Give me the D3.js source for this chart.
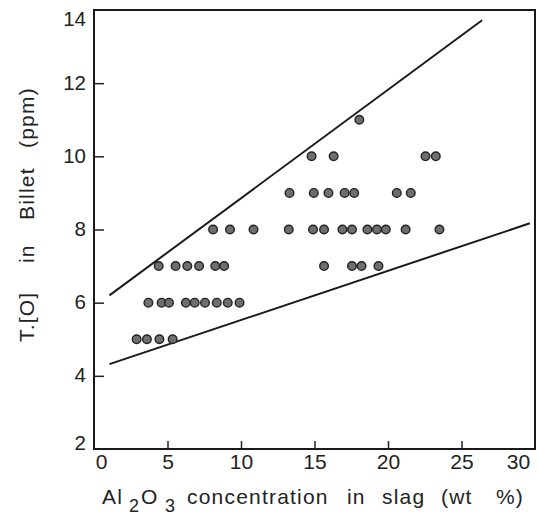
<!DOCTYPE html>
<html>
<head>
<meta charset="utf-8">
<script src="https://cdn.jsdelivr.net/npm/d3@7"></script>
<style>
  body { margin: 0; background: #fff; }
  text { font-family: "Liberation Sans", Arial, sans-serif; fill: #222; }
</style>
</head>
<body>
<svg id="chart" width="539" height="520"></svg>
<script>
// Al2O3 in slag (wt%) vs T.[O] in billet (ppm)
var xVals = [18.05,
  14.8, 16.3, 22.55, 23.25,
  13.3, 14.95, 15.95, 17.05, 17.7, 20.6, 21.55,
  8.1, 9.25, 10.85, 13.25, 14.9, 15.65, 16.9, 17.55, 18.6, 19.25, 19.85, 21.2, 23.5,
  4.4, 5.55, 6.35, 7.15, 8.25, 8.85, 15.65, 17.55, 18.2, 19.35,
  3.7, 4.6, 5.1, 6.25, 6.85, 7.55, 8.35, 9.1, 9.9,
  2.9, 3.6, 4.45, 5.35];
var yVals = [11,
  10, 10, 10, 10,
  9, 9, 9, 9, 9, 9, 9,
  8, 8, 8, 8, 8, 8, 8, 8, 8, 8, 8, 8, 8,
  7, 7, 7, 7, 7, 7, 7, 7, 7, 7,
  6, 6, 6, 6, 6, 6, 6, 6, 6,
  5, 5, 5, 5];
// bounding lines, [x, y] end points
var upperLine = [[1.05, 6.2], [26.4, 13.72]];
var lowerLine = [[1.05, 4.32], [29.65, 8.17]];
var xTicks = [0, 5, 10, 15, 20, 25, 30];
var yTicks = [2, 4, 6, 8, 10, 12, 14];

var svg = d3.select("#chart");
var mLeft = 94, mRight = 535, mTop = 10, mBottom = 449;

var x = d3.scaleLinear().domain([0, 30]).range([mLeft, mRight]);
var y = d3.scaleLinear().domain([2, 14]).range([mBottom, mTop]);

// x axis, ticks pointing inward
var xAxis = svg.append("g")
    .attr("transform", "translate(0," + mBottom + ")")
    .call(d3.axisBottom(x).tickValues(xTicks).tickSize(-8).tickPadding(6).tickSizeOuter(0));
xAxis.select(".domain").remove();
xAxis.selectAll("line").attr("stroke", "#222").attr("stroke-width", 1.5);
xAxis.selectAll("text")
    .attr("font-size", 21).attr("fill", "#222")
    .attr("dy", "0.71em").attr("y", 5)
    .attr("dx", function(d){ return d === 0 ? 7 : d === 30 ? -17 : 0; });
xAxis.selectAll(".tick").filter(function(d){ return d === 0 || d === 30; }).select("line").remove();

var yAxis = svg.append("g")
    .attr("transform", "translate(" + mLeft + ",0)")
    .call(d3.axisLeft(y).tickValues(yTicks).tickSize(-10).tickPadding(8).tickSizeOuter(0));
yAxis.select(".domain").remove();
yAxis.selectAll("line").attr("stroke", "#222").attr("stroke-width", 1.5);
yAxis.selectAll("text").attr("font-size", 20.5).attr("fill", "#222")
    .attr("dy", function(d){ return d === 14 ? 15 : d === 2 ? 0 : 6; });
yAxis.selectAll(".tick").filter(function(d){ return d === 2 || d === 14; }).select("line").remove();

// frame
svg.append("rect")
    .attr("x", mLeft).attr("y", mTop)
    .attr("width", mRight - mLeft).attr("height", mBottom - mTop)
    .attr("fill", "none").attr("stroke", "#1a1a1a").attr("stroke-width", 2);

var line = d3.line().x(function(d){ return x(d[0]); }).y(function(d){ return y(d[1]); });
[upperLine, lowerLine].forEach(function(l){
  svg.append("path").attr("d", line(l))
      .attr("fill", "none").attr("stroke", "#1a1a1a").attr("stroke-width", 2);
});

svg.append("g").selectAll("circle")
    .data(d3.range(xVals.length))
    .join("circle")
    .attr("cx", function(i){ return x(xVals[i]); })
    .attr("cy", function(i){ return y(yVals[i]); })
    .attr("r", 4.3)
    .attr("fill", "#6e6e6e")
    .attr("stroke", "#222")
    .attr("stroke-width", 1.4);

// axis titles (words spaced out like the typeset original)
var xt = svg.append("text")
    .attr("y", 504)
    .attr("font-size", 21)
    .attr("letter-spacing", 1.2);
xt.append("tspan").attr("x", 102).text("Al");
xt.append("tspan").attr("x", 129).attr("dy", 8).attr("font-size", 18).text("2");
xt.append("tspan").attr("x", 141).attr("dy", -8).text("O");
xt.append("tspan").attr("x", 165).attr("dy", 8).attr("font-size", 18).text("3");
xt.append("tspan").attr("x", 187).attr("dy", -8).text("concentration");
xt.append("tspan").attr("x", 347).text("in");
xt.append("tspan").attr("x", 382).text("slag");
xt.append("tspan").attr("x", 441).text("(wt");
xt.append("tspan").attr("x", 496).text("%)");

var yt = svg.append("text")
    .attr("transform", "translate(34,0) rotate(-90)")
    .attr("font-size", 21)
    .attr("letter-spacing", 1.2);
yt.append("tspan").attr("x", -342).text("T.[O]");
yt.append("tspan").attr("x", -263).text("in");
yt.append("tspan").attr("x", -220).text("Billet");
yt.append("tspan").attr("x", -148).text("(ppm)");
</script>
</body>
</html>
